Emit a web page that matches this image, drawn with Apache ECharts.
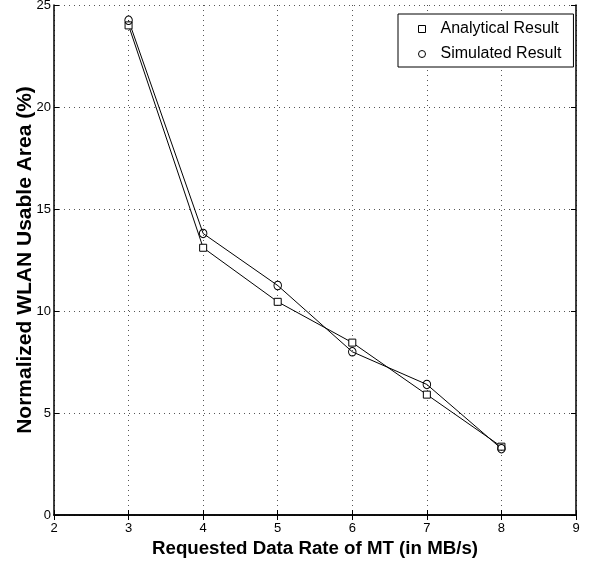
<!DOCTYPE html>
<html>
<head>
<meta charset="utf-8">
<script src="https://cdn.jsdelivr.net/npm/echarts@6/dist/echarts.min.js"></script>
<style>html,body{margin:0;padding:0;background:#fff;}#c{width:593px;height:567px;}</style>
</head>
<body>
<div id="c"></div>
<script>
const xValues = [3, 4, 5, 6, 7, 8];
const analytical = [24.0, 13.1, 10.45, 8.45, 5.9, 3.35];
const simulated = [24.25, 13.8, 11.25, 8.0, 6.4, 3.25];
const seriesNames = ['Analytical Result', 'Simulated Result'];
const xTitle = 'Requested Data Rate of MT (in MB/s)';
const yTitle = 'Normalized WLAN Usable Area (%)';

const narrow = '"Liberation Sans Narrow", "Arial Narrow", "Liberation Sans", Arial, sans-serif';
const sans = '"Liberation Sans", Arial, sans-serif';

const chart = echarts.init(document.getElementById('c'), null, {renderer: 'canvas'});
const axisLine = {show: true, lineStyle: {color: '#000', width: 1.5}};
const tick = {show: true, inside: true, length: 5, lineStyle: {color: '#000'}};
const split = {show: true, lineStyle: {color: '#555', type: [1, 4], width: 1}};

chart.setOption({
  animation: false,
  backgroundColor: '#fff',
  grid: {left: 54, right: 17, top: 5, bottom: 52, containLabel: false, outerBoundsMode: 'none'},
  xAxis: [
    {type: 'value', min: 2, max: 9, interval: 1, position: 'bottom',
     axisLine: axisLine, axisTick: tick, splitLine: split,
     axisLabel: {color: '#000', fontFamily: narrow, fontSize: 13, margin: 7},
     name: xTitle, nameLocation: 'middle', nameGap: 24, nameMoveOverlap: false,
     nameTextStyle: {color: '#000', fontFamily: sans, fontWeight: 'bold', fontSize: 18.7}},
    {type: 'value', min: 2, max: 9, interval: 1, position: 'top',
     axisLine: axisLine, axisTick: tick, splitLine: {show: false}, axisLabel: {show: false}}
  ],
  yAxis: [
    {type: 'value', min: 0, max: 25, interval: 5, position: 'left',
     axisLine: axisLine, axisTick: tick, splitLine: split,
     axisLabel: {color: '#000', fontFamily: narrow, fontSize: 13, margin: 3},
     name: yTitle, nameLocation: 'middle', nameGap: 18.5, nameRotate: 90, nameMoveOverlap: false,
     nameTextStyle: {color: '#000', fontFamily: sans, fontWeight: 'bold', fontSize: 21}},
    {type: 'value', min: 0, max: 25, interval: 5, position: 'right',
     axisLine: axisLine, axisTick: tick, splitLine: {show: false}, axisLabel: {show: false}}
  ],
  legend: {
    orient: 'vertical', left: 398, top: 14,
    backgroundColor: '#fff', borderColor: '#000', borderWidth: 1,
    padding: [7, 12, 5, 20], itemGap: 9, itemWidth: 7, itemHeight: 7,
    textStyle: {color: '#000', fontFamily: narrow, fontSize: 16, padding: [0, 0, 0, 10]},
    data: [
      {name: seriesNames[0], icon: 'rect', itemStyle: {color: '#fff', borderColor: '#000', borderWidth: 1}},
      {name: seriesNames[1], icon: 'circle', itemStyle: {color: '#fff', borderColor: '#000', borderWidth: 1}}
    ]
  },
  series: [
    {name: seriesNames[0], type: 'line', data: xValues.map((x, i) => [x, analytical[i]]),
     symbol: 'rect', symbolSize: 7, showAllSymbol: true,
     lineStyle: {color: '#000', width: 1},
     itemStyle: {color: '#fff', borderColor: '#000', borderWidth: 1}},
    {name: seriesNames[1], type: 'line', data: xValues.map((x, i) => [x, simulated[i]]),
     symbol: 'circle', symbolSize: [7.5, 8.5], showAllSymbol: true,
     lineStyle: {color: '#000', width: 1},
     itemStyle: {color: 'rgba(255,255,255,0)', borderColor: '#000', borderWidth: 1}}
  ]
});
</script>
</body>
</html>
